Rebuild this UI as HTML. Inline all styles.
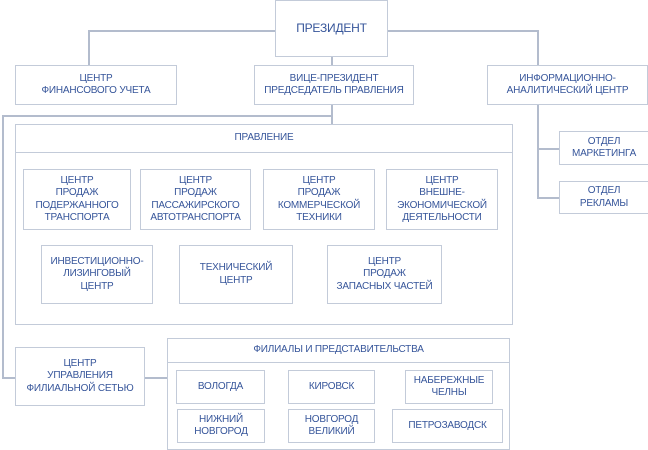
<!DOCTYPE html>
<html><head><meta charset="utf-8"><style>
body{margin:0;width:648px;height:449px;background:#fff;position:relative;overflow:hidden;font-family:"Liberation Sans Narrow","Liberation Sans",sans-serif;}
.b{position:absolute;border:1.5px solid #c3cbd9;box-sizing:border-box;display:flex;align-items:center;justify-content:center;text-align:center;color:#36559a;font-size:10px;line-height:12.5px;letter-spacing:-0.2px;background:#fff;}
.l{position:absolute;background:#b3bccd;}
</style></head><body>
<div class="l" style="left:88px;top:30px;width:450px;height:1.5px"></div>
<div class="l" style="left:88px;top:30px;width:1.5px;height:36px"></div>
<div class="l" style="left:537px;top:30px;width:1.5px;height:36px"></div>
<div class="l" style="left:331px;top:56px;width:1.5px;height:68px"></div>
<div class="l" style="left:2px;top:115px;width:330px;height:1.5px"></div>
<div class="l" style="left:2px;top:115px;width:1.5px;height:263px"></div>
<div class="l" style="left:2px;top:377px;width:14px;height:1.5px"></div>
<div class="l" style="left:145px;top:377px;width:24px;height:1.5px"></div>
<div class="l" style="left:537px;top:104px;width:1.5px;height:94px"></div>
<div class="l" style="left:537px;top:148px;width:22px;height:1.5px"></div>
<div class="l" style="left:537px;top:197px;width:22px;height:1.5px"></div>

<div class="b" style="left:275px;top:0;width:113px;height:57px;font-size:12px">ПРЕЗИДЕНТ</div>
<div class="b" style="left:15px;top:65px;width:162px;height:40px">ЦЕНТР<br>ФИНАНСОВОГО УЧЕТА</div>
<div class="b" style="left:254px;top:65px;width:160px;height:40px">ВИЦЕ-ПРЕЗИДЕНТ<br>ПРЕДСЕДАТЕЛЬ ПРАВЛЕНИЯ</div>
<div class="b" style="left:487px;top:65px;width:161px;height:40px">ИНФОРМАЦИОННО-<br>АНАЛИТИЧЕСКИЙ ЦЕНТР</div>
<div class="b" style="left:559px;top:131px;width:90px;height:34px">ОТДЕЛ<br>МАРКЕТИНГА</div>
<div class="b" style="left:559px;top:181px;width:90px;height:33px">ОТДЕЛ<br>РЕКЛАМЫ</div>

<div class="b" style="left:15px;top:124px;width:498px;height:201px"></div>
<div class="b" style="left:15px;top:124px;width:498px;height:29px">ПРАВЛЕНИЕ</div>
<div class="b" style="left:23px;top:169px;width:108px;height:61px">ЦЕНТР<br>ПРОДАЖ<br>ПОДЕРЖАННОГО<br>ТРАНСПОРТА</div>
<div class="b" style="left:140px;top:169px;width:111px;height:61px">ЦЕНТР<br>ПРОДАЖ<br>ПАССАЖИРСКОГО<br>АВТОТРАНСПОРТА</div>
<div class="b" style="left:263px;top:169px;width:112px;height:61px">ЦЕНТР<br>ПРОДАЖ<br>КОММЕРЧЕСКОЙ<br>ТЕХНИКИ</div>
<div class="b" style="left:386px;top:169px;width:112px;height:61px">ЦЕНТР<br>ВНЕШНЕ-<br>ЭКОНОМИЧЕСКОЙ<br>ДЕЯТЕЛЬНОСТИ</div>
<div class="b" style="left:41px;top:245px;width:112px;height:59px">ИНВЕСТИЦИОННО-<br>ЛИЗИНГОВЫЙ<br>ЦЕНТР</div>
<div class="b" style="left:179px;top:245px;width:114px;height:59px">ТЕХНИЧЕСКИЙ<br>ЦЕНТР</div>
<div class="b" style="left:327px;top:245px;width:115px;height:59px">ЦЕНТР<br>ПРОДАЖ<br>ЗАПАСНЫХ ЧАСТЕЙ</div>

<div class="b" style="left:15px;top:347px;width:130px;height:59px">ЦЕНТР<br>УПРАВЛЕНИЯ<br>ФИЛИАЛЬНОЙ СЕТЬЮ</div>
<div class="b" style="left:167px;top:338px;width:343px;height:112px"></div>
<div class="b" style="left:167px;top:338px;width:343px;height:25px">ФИЛИАЛЫ И ПРЕДСТАВИТЕЛЬСТВА</div>
<div class="b" style="left:176px;top:370px;width:89px;height:34px">ВОЛОГДА</div>
<div class="b" style="left:288px;top:370px;width:87px;height:34px">КИРОВСК</div>
<div class="b" style="left:405px;top:370px;width:88px;height:34px">НАБЕРЕЖНЫЕ<br>ЧЕЛНЫ</div>
<div class="b" style="left:177px;top:409px;width:88px;height:34px">НИЖНИЙ<br>НОВГОРОД</div>
<div class="b" style="left:288px;top:409px;width:87px;height:34px">НОВГОРОД<br>ВЕЛИКИЙ</div>
<div class="b" style="left:392px;top:409px;width:111px;height:34px">ПЕТРОЗАВОДСК</div>
</body></html>
